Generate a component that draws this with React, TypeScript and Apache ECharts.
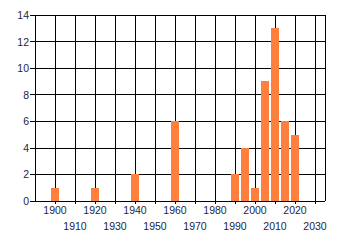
import React, { useEffect, useRef } from "react";
import * as echarts from "echarts";

const years = [1900, 1920, 1940, 1960, 1990, 1995, 2000, 2005, 2010, 2015, 2020];
const counts = [1, 1, 2, 6, 2, 4, 1, 9, 13, 6, 5];
const xMin = 1890;
const xMax = 2035;
const xStep = 10;
const yMax = 14;
const yStep = 2;

export default function App() {
  const ref = useRef<HTMLDivElement>(null);
  useEffect(() => {
    if (!ref.current) return;
    const chart = echarts.init(ref.current, null, { renderer: "svg" });
    const textColor = "#1e2644";
    const font = "'Liberation Sans', Arial, sans-serif";
    chart.setOption({
      animation: false,
      grid: { left: 35, top: 15, right: 15, bottom: 44, containLabel: false },
      xAxis: {
        type: "value",
        min: xMin,
        max: xMax,
        interval: xStep,
        axisLine: { show: true, lineStyle: { color: "#000", width: 1 } },
        axisTick: { show: true, inside: false, length: 3, lineStyle: { color: "#000" } },
        splitLine: { show: true, lineStyle: { color: "#000", width: 1 } },
        axisLabel: {
          color: textColor,
          fontFamily: font,
          fontSize: 10.5,
          lineHeight: 16,
          margin: 1,
          showMinLabel: false,
          showMaxLabel: false,
          formatter: (v: number) => {
            if (v <= xMin) return "";
            const odd = Math.round((v - 1900) / 10) % 2 !== 0;
            return odd ? "\n" + v : String(v);
          },
        },
      },
      yAxis: {
        type: "value",
        min: 0,
        max: yMax,
        interval: yStep,
        axisLine: { show: true, lineStyle: { color: "#000", width: 1 } },
        axisTick: { show: true, inside: false, length: 5, lineStyle: { color: "#000" } },
        splitLine: { show: true, lineStyle: { color: "#000", width: 1 } },
        axisLabel: {
          color: textColor,
          fontFamily: font,
          fontSize: 10.5,
          margin: 6,
        },
      },
      series: [
        {
          type: "bar",
          data: years.map((y, i) => [y, counts[i]]),
          barWidth: 8,
          itemStyle: { color: "#ff7f3f" },
        },
      ],
    });
    return () => chart.dispose();
  }, []);
  return (
    <>
      <style>{"#chart svg path, #chart svg rect, #chart svg line { shape-rendering: crispEdges; }"}</style>
      <div
        id="chart"
        ref={ref}
        style={{ width: 340, height: 245, position: "absolute", left: 0, top: 0, background: "#fff" }}
      />
    </>
  );
}
